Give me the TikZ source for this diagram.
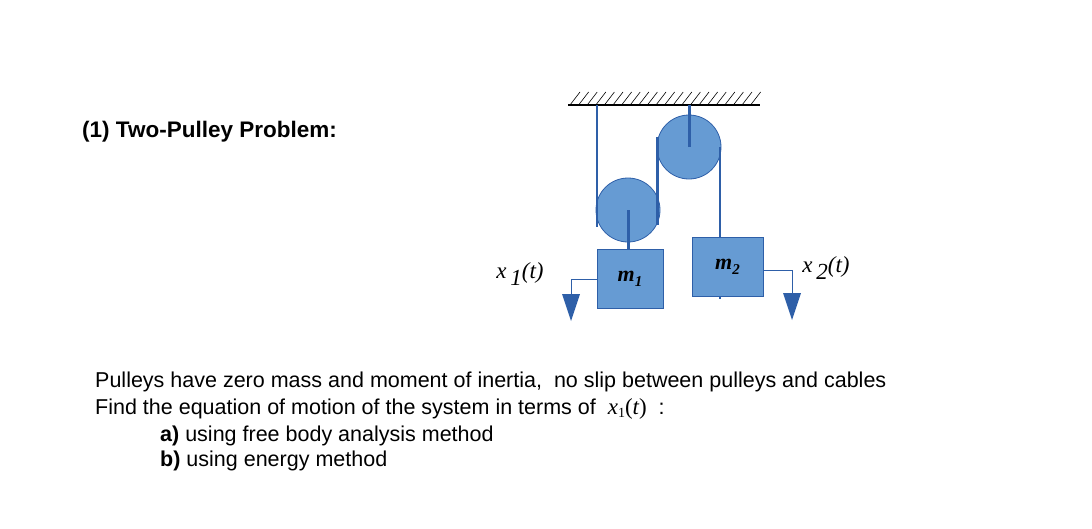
\documentclass[tikz,border=0pt]{standalone}
\usepackage{fontspec}
\setmainfont{Liberation Sans}
\newfontfamily\serifx{Liberation Serif}
\definecolor{pfill}{RGB}{102,155,211}
\definecolor{pline}{RGB}{46,95,168}
\begin{document}
\begin{tikzpicture}[x=1pt,y=-1pt,
  txt/.style={anchor=west,inner sep=0pt,font=\fontsize{21.5}{24}\selectfont},
  rope/.style={pline,line width=1.6pt},
  thick rope/.style={pline,line width=3pt},
  pulley/.style={circle,fill=pfill,draw=pline,line width=0.8pt,minimum size=64pt,inner sep=0pt},
  block/.style={draw=pline,fill=pfill,line width=0.8pt,inner sep=0pt},
  lbl/.style={font=\serifx\itshape\fontsize{23}{23}\selectfont,inner sep=0pt}]
\useasboundingbox (0,0) rectangle (1092,528);
% ceiling
\foreach \i in {0,...,21} \draw[line width=0.6pt] (570+8.6*\i,105) -- (580+8.6*\i,92);
\draw[line width=1.6pt] (568,105) -- (760,105);
% pulleys
\node[pulley] (P2) at (689,147) {};
\node[pulley] (P1) at (628,210) {};
% blocks
\node[block,minimum width=66pt,minimum height=59pt] (M1) at (630,278.5) {\serifx\bfseries\itshape\fontsize{22}{22}\selectfont m\raisebox{-0.5ex}{\fontsize{15}{15}\selectfont 1}};
\node[block,minimum width=71pt,minimum height=59pt] (M2) at (727.5,266.5) {\serifx\bfseries\itshape\fontsize{22}{22}\selectfont m\raisebox{-0.5ex}{\fontsize{15}{15}\selectfont 2}};
% ropes
\draw[rope] (597,105) -- (597,227);
\draw[thick rope] (657,137) -- (657,225);
\draw[thick rope] (P2.center) -- (689,105);
\draw[rope] (720,147) -- (M2.north -| 720,0);
\draw[thick rope] (P1.center) -- (P1.center |- M1.north);
\draw[rope] (M2.south -| 720,0) -- ++(0,3);
% displacement arrows
\coordinate (A1) at (571,279);
\coordinate (T1) at (571,321);
\draw[pline,line width=0.8pt] (M1.west |- A1) -- (A1) -- (571,295);
\fill[pline] (562,294) -- (580,294) -- (T1) -- cycle;
\coordinate (A2) at (792,270);
\coordinate (T2) at (792,320);
\draw[pline,line width=0.8pt] (M2.east |- A2) -- (A2) -- (792,294);
\fill[pline] (783,293) -- (801,293) -- (T2) -- cycle;
\node[lbl] (X1) at (520,274) {x\,\raisebox{-0.6ex}{1}(t)};
\node[lbl] (X2) at (826,268) {x\,\raisebox{-0.6ex}{2}(t)};
% texts
\node[txt,font=\bfseries\fontsize{22.5}{24}\selectfont] (T) at (82,132) {(1) Two-Pulley Problem:};
\node[txt] (L1) at (95,382) {Pulleys have zero mass and moment of inertia,\ \ no slip between pulleys and cables};
\node[txt] (L2) at (95,409) {Find the equation of motion of the system in terms of\ \ {\serifx\fontsize{23}{23}\selectfont\itshape x}{\serifx\fontsize{14}{14}\selectfont\raisebox{-0.4ex}{1}}{\serifx\fontsize{23}{23}\selectfont(\itshape t\upshape)}\ \ :};
\node[txt] (L3) at (160,436) {\textbf{a)} using free body analysis method};
\node[txt] (L4) at (160,461) {\textbf{b)} using energy method};
\end{tikzpicture}
\end{document}
